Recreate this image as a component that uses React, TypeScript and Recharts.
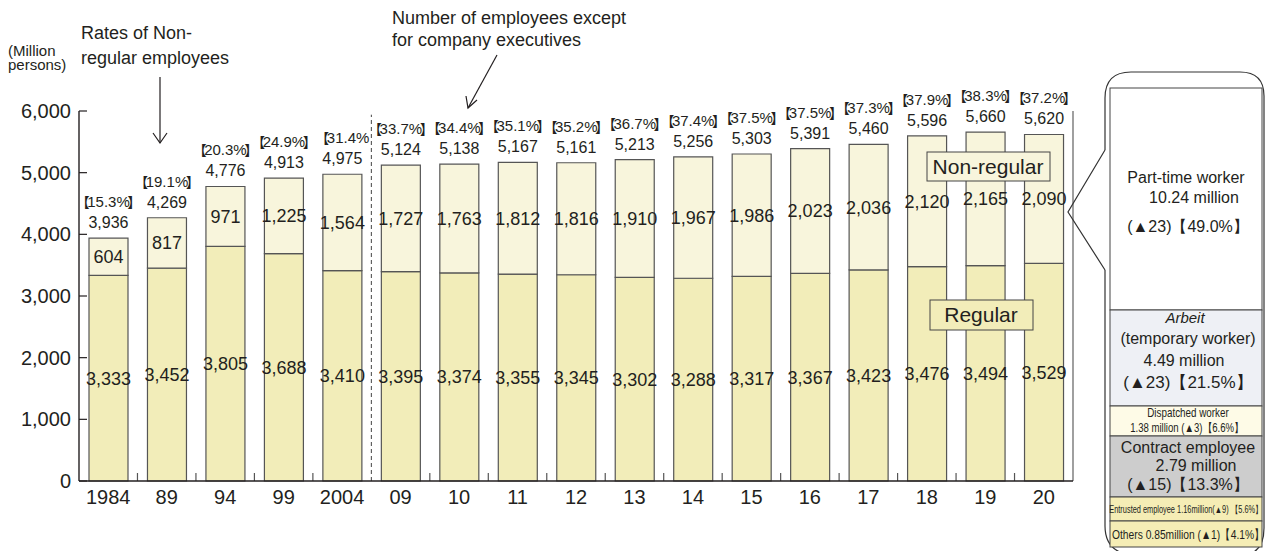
import React from "react";
import { BarChart, Bar, XAxis, YAxis, LabelList, ReferenceLine } from "recharts";

const years = ["1984", "89", "94", "99", "2004", "09", "10", "11", "12", "13", "14", "15", "16", "17", "18", "19", "20"];
const regular = [3333, 3452, 3805, 3688, 3410, 3395, 3374, 3355, 3345, 3302, 3288, 3317, 3367, 3423, 3476, 3494, 3529];
const nonRegular = [604, 817, 971, 1225, 1564, 1727, 1763, 1812, 1816, 1910, 1967, 1986, 2023, 2036, 2120, 2165, 2090];
const totals = [3936, 4269, 4776, 4913, 4975, 5124, 5138, 5167, 5161, 5213, 5256, 5303, 5391, 5460, 5596, 5660, 5620];
const rateLabels = [
  "【15.3%】", "【19.1%】", "【20.3%】", "【24.9%】", "【31.4%", "【33.7%】", "【34.4%】", "【35.1%】", "【35.2%】",
  "【36.7%】", "【37.4%】", "【37.5%】", "【37.5%】", "【37.3%】", "【37.9%】", "【38.3%】", "【37.2%】",
];
const yTicks = [0, 1000, 2000, 3000, 4000, 5000, 6000];
// small ticks sit at the start of these categories; the break before "09" is dashed
const tickedYears = ["89", "94", "99", "2004", "10", "11", "12", "13", "14", "15", "16", "17", "18", "19", "20"];
const breakYear = "09";

const data = years.map((year, i) => ({
  year,
  regular: regular[i],
  nonRegular: nonRegular[i],
  total: totals[i],
  rate: rateLabels[i],
}));

const ink = "#231f20";
const font = "'Liberation Sans', Arial, sans-serif";
const cjk = "'Noto Sans CJK JP', sans-serif";
const fmt = (v: any) => Number(v).toLocaleString("en-US");

const box = (p: any) => p.viewBox ?? p;

const TotalLabel = (props: any) => {
  const { x, y, width } = box(props);
  return (
    <text x={x + width / 2} y={y - 10} textAnchor="middle" fontSize={16} fill={ink}>
      {fmt(props.value)}
    </text>
  );
};

const RateLabel = (props: any) => {
  const { x, y, width } = box(props);
  const s = String(props.value);
  const open = s.startsWith("【");
  const close = s.endsWith("】");
  const core = s.replace(/[【】]/g, "");
  return (
    <text x={x + width / 2} y={y - 31} textAnchor="middle" fontSize={15} fill={ink}>
      {open && (
        <tspan fontFamily={cjk} fontSize={14}>
          【
        </tspan>
      )}
      <tspan dx={open ? -2.5 : 0}>{core}</tspan>
      {close && (
        <tspan fontFamily={cjk} fontSize={14} dx={-2.5}>
          】
        </tspan>
      )}
    </text>
  );
};

// condensed text like the narrow face in the panel
const Narrow = ({ x, y, sx, size, anchor = "middle", children }: any) => (
  <text
    transform={`translate(${x},${y}) scale(${sx},1)`}
    fontSize={size}
    textAnchor={anchor}
    fill={ink}
    fontFamily={font}
  >
    {children}
  </text>
);

function Overlay() {
  const t = { fill: ink, fontFamily: font } as const;
  return (
    <svg
      width={1265}
      height={551}
      style={{ position: "absolute", left: 0, top: 0, pointerEvents: "none" }}
    >
      {/* unit */}
      <text x={8} y={56} fontSize={15} {...t}>(Million</text>
      <text x={8} y={70} fontSize={15} {...t}>persons)</text>

      {/* rate annotation */}
      <text x={81} y={39} fontSize={18} {...t}>Rates of Non-</text>
      <text x={81} y={64} fontSize={18} {...t}>regular employees</text>
      <line x1={160} y1={77} x2={160} y2={143} stroke={ink} strokeWidth={1.2} />
      <polyline points="153,133 160,143 167,133" fill="none" stroke={ink} strokeWidth={1.2} />

      {/* employees annotation */}
      <text x={392} y={24} fontSize={18} {...t}>Number of employees except</text>
      <text x={392} y={46} fontSize={18} {...t}>for company executives</text>
      <line x1={497} y1={55} x2={468} y2={108} stroke={ink} strokeWidth={1.2} />
      <polyline points="466,96 468,108 477,100" fill="none" stroke={ink} strokeWidth={1.2} />

      {/* series tags */}
      <rect x={927} y={152} width={123} height={29} fill="#f8f5dc" stroke="#444" strokeWidth={1} />
      <text x={988} y={174} fontSize={21} textAnchor="middle" {...t}>Non-regular</text>
      <rect x={930} y={300} width={103} height={30} fill="#f2edb9" stroke="#444" strokeWidth={1} />
      <text x={981} y={322} fontSize={21} textAnchor="middle" {...t}>Regular</text>

      {/* breakdown panel */}
      <path
        d="M1105 150 L1105 98 Q1105 72 1131 72 L1240 72 Q1264 72 1264 96 L1264 528 Q1264 553 1244 555 M1105 270 L1105 526 Q1105 551 1130 555"
        fill="none"
        stroke="#333"
        strokeWidth={1.2}
      />
      <polyline points="1105,150 1068,212 1105,270" fill="none" stroke="#333" strokeWidth={1.2} />
      <rect x={1110} y={88} width={152} height={222} fill="#ffffff" stroke="#444" />
      <rect x={1110} y={310} width={152} height={96} fill="#eef0f5" stroke="#444" />
      <rect x={1110} y={406} width={152} height={30} fill="#fefbe7" stroke="#444" />
      <rect x={1110} y={436} width={152} height={61} fill="#cdcdcd" stroke="#444" />
      <rect x={1110} y={497} width={152} height={24} fill="#f5edb5" stroke="#444" />
      <rect x={1110} y={521} width={152} height={26} fill="#f5edb5" stroke="#444" />

      <text x={1186} y={183} fontSize={16} textAnchor="middle" {...t}>Part-time worker</text>
      <text x={1194} y={203} fontSize={16} textAnchor="middle" {...t}>10.24 million</text>
      <text x={1188} y={232} fontSize={16} textAnchor="middle" {...t}>(▲23)【49.0%】</text>

      <text x={1185} y={323} fontSize={15} fontStyle="italic" textAnchor="middle" {...t}>Arbeit</text>
      <text x={1188} y={344} fontSize={16} textAnchor="middle" {...t}>(temporary worker)</text>
      <text x={1184} y={366} fontSize={16} textAnchor="middle" {...t}>4.49 million</text>
      <text x={1188} y={388} fontSize={17} textAnchor="middle" {...t}>(▲23)【21.5%】</text>

      <Narrow x={1188} y={417} sx={0.82} size={12}>Dispatched worker</Narrow>
      <Narrow x={1187} y={432} sx={0.8} size={12}>1.38 million (▲3)【6.6%】</Narrow>

      <text x={1188} y={453} fontSize={16} textAnchor="middle" {...t}>Contract employee</text>
      <text x={1196} y={471} fontSize={16} textAnchor="middle" {...t}>2.79 million</text>
      <text x={1188} y={490} fontSize={16} textAnchor="middle" {...t}>(▲15)【13.3%】</text>

      <Narrow x={1186} y={513} sx={0.74} size={10}>Entrusted employee 1.16million(▲9) 【5.6%】</Narrow>
      <Narrow x={1112} y={539} sx={0.79} size={13} anchor="start">Others 0.85million (▲1)【4.1%】</Narrow>
    </svg>
  );
}

export default function App() {
  return (
    <div
      style={{
        position: "absolute",
        left: 0,
        top: 0,
        width: 1265,
        height: 551,
        background: "#fff",
        fontFamily: font,
      }}
    >
      <BarChart
        width={1265}
        height={551}
        data={data}
        margin={{ top: 111, right: 192, bottom: 40, left: 9 }}
      >
        <XAxis
          dataKey="year"
          interval={0}
          height={30}
          tickLine={false}
          tickSize={0}
          tickMargin={9}
          axisLine={{ stroke: ink, strokeWidth: 1.6 }}
          tick={{ fill: ink, fontSize: 20 }}
        />
        <YAxis
          width={70}
          domain={[0, 6000]}
          ticks={yTicks}
          interval={0}
          tickSize={-8}
          tickMargin={16}
          tickLine={{ stroke: ink, strokeWidth: 1.2 }}
          tickFormatter={fmt}
          axisLine={{ stroke: ink, strokeWidth: 1.4 }}
          tick={{ fill: ink, fontSize: 20 }}
        />

        <Bar
          dataKey="regular"
          stackId="a"
          barSize={39}
          fill="#f2edb9"
          stroke="#555"
          strokeWidth={1.2}
          isAnimationActive={false}
        >
          <LabelList dataKey="regular" position="center" formatter={fmt} fill={ink} fontSize={18} />
        </Bar>
        <Bar
          dataKey="nonRegular"
          stackId="a"
          barSize={39}
          fill="#f8f5dc"
          stroke="#555"
          strokeWidth={1.2}
          isAnimationActive={false}
        >
          <LabelList dataKey="nonRegular" position="center" formatter={fmt} fill={ink} fontSize={18} />
          <LabelList dataKey="total" content={TotalLabel} />
          <LabelList dataKey="rate" content={RateLabel} />
        </Bar>

        {tickedYears.map((yr) => (
          <ReferenceLine
            key={"xt" + yr}
            segment={[{ x: yr, y: 0 }, { x: yr, y: 130 }]}
            position="start"
            stroke="#555"
            strokeWidth={1.2}
          />
        ))}
        <ReferenceLine
          segment={[{ x: breakYear, y: 0 }, { x: breakYear, y: 5940 }]}
          position="start"
          stroke="#444"
          strokeDasharray="4 3"
          strokeWidth={1}
        />
        <ReferenceLine
          segment={[{ x: "20", y: 0 }, { x: "20", y: 6000 }]}
          position="end"
          stroke="#888"
          strokeWidth={1.6}
        />
      </BarChart>
      <Overlay />
    </div>
  );
}
